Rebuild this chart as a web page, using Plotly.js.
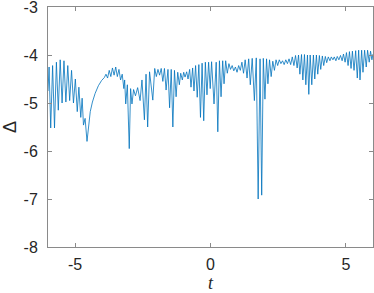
<!DOCTYPE html>
<html>
<head>
<meta charset="utf-8">
<script src="https://cdn.plot.ly/plotly-3.0.1.min.js"></script>
<style>html,body{margin:0;padding:0;background:#fff;}#chart{width:374px;height:293px;}</style>
</head>
<body>
<div id="chart"></div>
<script>
// time samples (peaks and troughs)
const tVals = [
-6.00,-5.96,-5.90,-5.83,-5.76,-5.69,-5.62,-5.55,-5.48,-5.41,-5.34,-5.27,-5.20,
-5.13,-5.06,-4.99,-4.92,-4.86,-4.79,-4.74,-4.69,-4.63,-4.56,
-4.50,-4.44,-4.36,-4.26,-4.14,-4.02,-3.92,
-3.86,-3.80,-3.74,-3.68,-3.62,-3.56,-3.50,-3.44,
-3.38,-3.32,-3.26,-3.20,-3.17,-3.13,-3.07,-3.00,-2.95,-2.90,-2.84,-2.77,-2.69,-2.60,
-2.53,-2.44,-2.38,-2.32,-2.25,-2.13,-2.06,-2.00,-1.94,-1.88,-1.82,-1.76,-1.70,-1.64,
-1.57,-1.51,-1.45,-1.39,-1.33,-1.27,-1.21,-1.15,-1.10,-1.04,-0.99,-0.94,-0.88,-0.83,
-0.77,-0.72,-0.66,-0.61,-0.55,-0.49,-0.43,-0.37,-0.31,-0.25,-0.19,-0.13,-0.07,-0.01,
0.04,0.13,0.21,0.27,0.33,0.39,0.45,0.50,0.56,0.62,0.68,0.74,0.80,0.86,0.92,0.98,
1.04,1.10,1.16,1.22,1.28,1.35,1.41,1.47,1.54,1.62,1.69,1.76,1.83,1.89,1.95,2.01,
2.07,2.12,2.18,2.24,2.30,2.36,2.42,2.48,2.54,2.60,2.66,2.72,2.78,2.84,2.90,2.96,
3.02,3.08,3.14,3.20,3.25,3.30,3.36,3.41,3.47,3.52,3.58,3.63,3.68,3.74,3.80,3.85,
3.91,3.96,4.02,4.07,4.13,4.18,4.24,4.29,4.35,4.41,4.46,4.52,4.57,4.63,4.68,4.74,
4.80,4.86,4.91,4.97,5.02,5.08,5.13,5.19,5.24,5.30,5.36,5.42,5.47,5.52,5.58,5.63,
5.69,5.75,5.80,5.86,5.91,5.96,6.00
];
// Delta values at those times
const deltaVals = [
-4.75,-4.25,-5.52,-4.22,-5.52,-4.15,-5.15,-4.10,-5.00,-4.12,-4.98,-4.22,-4.95,
-4.32,-5.00,-4.50,-5.18,-4.67,-5.30,-4.90,-5.46,-5.32,-5.80,
-5.42,-5.18,-4.98,-4.80,-4.64,-4.53,-4.47,
-4.40,-4.48,-4.32,-4.45,-4.27,-4.42,-4.25,-4.45,
-4.30,-4.52,-4.40,-4.70,-4.52,-5.02,-4.62,-5.95,-4.70,-5.02,-4.72,-4.85,-4.68,-4.95,
-4.52,-5.35,-4.40,-5.50,-4.35,-4.94,-4.28,-4.45,-4.30,-4.42,-4.28,-4.55,-4.28,-4.73,
-4.30,-5.10,-4.30,-5.50,-4.32,-4.87,-4.36,-4.62,-4.38,-4.52,-4.36,-4.46,-4.35,-4.50,
-4.30,-4.67,-4.27,-4.75,-4.22,-4.88,-4.20,-5.30,-4.17,-5.37,-4.15,-4.83,-4.15,-4.70,
-4.14,-5.02,-4.15,-5.60,-4.12,-4.87,-4.12,-4.60,-4.12,-4.38,-4.18,-4.30,-4.22,-4.33,-4.25,-4.36,
-4.22,-4.32,-4.15,-4.38,-4.10,-4.48,-4.08,-4.62,-4.07,-4.95,-4.06,-7.00,-4.08,-6.92,-4.07,-4.92,
-4.08,-4.60,-4.10,-4.45,-4.13,-4.32,-4.10,-4.22,-4.10,-4.18,-4.12,-4.20,-4.10,-4.18,-4.08,-4.20,
-4.04,-4.22,-4.01,-4.27,-4.00,-4.40,-3.99,-4.52,-3.99,-4.62,-4.00,-4.82,-4.00,-4.62,-4.00,-4.50,
-4.00,-4.40,-4.01,-4.30,-4.02,-4.22,-4.03,-4.16,-4.04,-4.12,-4.04,-4.10,-4.04,-4.12,-4.03,-4.10,
-4.01,-4.12,-3.98,-4.15,-3.95,-4.22,-3.93,-4.28,-3.92,-4.32,-3.91,-4.48,-3.90,-4.52,-3.90,-4.36,
-3.90,-4.25,-3.90,-4.15,-3.92,-4.10,-3.98
];
const xTickVals = [-5, 0, 5];
const xTickText = ['-5', '0', '5'];
const yTickVals = [-8, -7, -6, -5, -4, -3];
const yTickText = ['-8', '-7', '-6', '-5', '-4', '-3'];

const axisColor = '#262626';
const lineColor = '#8a8a8a';

const trace = {
  x: tVals, y: deltaVals, type: 'scatter', mode: 'lines',
  line: {color: '#0072BD', width: 0.8},
  hoverinfo: 'skip'
};

const layout = {
  width: 374, height: 293,
  margin: {l: 48, r: 1, t: 7, b: 46},
  paper_bgcolor: '#fff', plot_bgcolor: '#fff',
  showlegend: false,
  font: {family: 'Liberation Sans, Arial, sans-serif', size: 16, color: axisColor},
  xaxis: {
    range: [-6, 6], tickvals: xTickVals, ticktext: xTickText,
    ticks: 'inside', ticklen: 4, tickcolor: lineColor, tickwidth: 1,
    showline: true, linecolor: lineColor, linewidth: 1, mirror: 'ticks',
    showgrid: false, zeroline: false,
    tickfont: {size: 16, color: axisColor},
    ticklabelstandoff: 3, ticklabeloverflow: 'allow',
    title: {text: '<i>t</i>', font: {size: 18, color: axisColor, family: 'Liberation Serif, Times New Roman, serif'}, standoff: 4}
  },
  yaxis: {
    range: [-8, -3], tickvals: yTickVals, ticktext: yTickText,
    ticks: 'inside', ticklen: 4, tickcolor: lineColor, tickwidth: 1,
    showline: true, linecolor: lineColor, linewidth: 1, mirror: 'ticks',
    showgrid: false, zeroline: false,
    tickfont: {size: 16, color: axisColor},
    ticklabelstandoff: 6, ticklabeloverflow: 'allow',
    title: {text: 'Δ', font: {size: 18, color: axisColor}, standoff: 6}
  }
};

Plotly.newPlot('chart', [trace], layout, {staticPlot: true, displayModeBar: false});
</script>
</body>
</html>
